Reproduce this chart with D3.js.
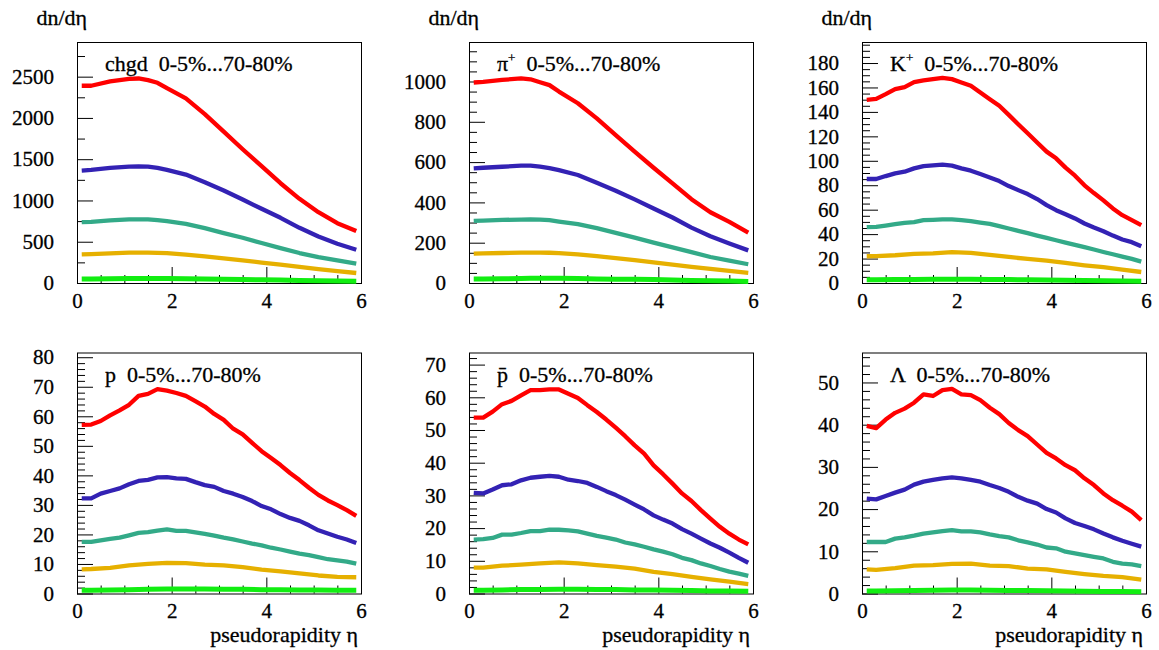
<!DOCTYPE html>
<html><head><meta charset="utf-8">
<script src="https://cdn.jsdelivr.net/npm/d3@7"></script>
</head><body style="margin:0;background:#fff">
<svg id="c" width="1159" height="650"></svg>
<script>
// ---------- data ----------
const etaMid = [0.1,0.3,0.7,1.1,1.3,1.5,1.7,1.9,2.3,2.7,3.1,3.5,3.9,4.3,4.7,5.1,5.5,5.9];
const etaFine = [0.1,0.3,0.5,0.7,0.9,1.1,1.3,1.5,1.7,1.9,2.1,2.3,2.5,2.7,2.9,3.1,3.3,3.5,3.7,3.9,4.1,4.3,4.5,4.7,4.9,5.1,5.3,5.5,5.7,5.9];
const etaCoarse = [0.1,0.3,0.7,1.1,1.5,1.9,2.3,2.7,3.1,3.5,3.9,4.3,4.7,5.1,5.5,5.9];

const chgdRed    = [2390,2390,2442,2474,2478,2458,2426,2360,2237,2047,1834,1620,1415,1209,1020,858,725,629];
const chgdBlue   = [1362,1370,1394,1410,1412,1410,1394,1370,1314,1221,1120,1012,899,790,669,564,476,403];
const chgdTeal   = [737,740,758,770,772,770,762,750,717,665,605,548,484,423,363,314,274,234];
const chgdOrange = [347,350,360,367,368,367,365,363,345,322,298,274,248,222,195,169,145,121];
const chgdGreen  = [48,49,52,54,55,56,56,56,52,48,45,42,40,35,30,27,23,20];

const piRed    = [995,998,1008,1015,1011,996,982,950,892,817,734,652,572,494,416,351,303,250];
const piBlue   = [569,572,577,582,582,577,570,560,536,497,458,415,370,325,275,232,196,162];
const piTeal   = [308,310,313,315,316,315,312,305,292,272,249,225,200,177,153,129,111,93];
const piOrange = [146,147,149,151,151,151,150,148,142,133,123,113,102,91,80,70,60,50];
const piGreen  = [20,20,21,22,23,23,23,23,22,20,19,18,17,15,13,11,10,8];

const kRed    = [149.9,150.7,154.5,158.6,160.3,164.4,165.8,166.8,167.9,166.8,164.1,161.4,155.9,150.4,145.0,137.6,129.9,122.5,114.9,107.5,102.0,94.4,87.8,79.9,73.6,67.6,61.0,55.5,51.4,47.3];
const kBlue   = [85.1,85.1,87.5,89.7,91.1,93.8,95.7,96.3,96.8,96.0,93.8,91.9,89.2,86.4,83.4,79.3,76.0,72.8,68.7,63.7,59.6,56.3,52.8,48.7,45.4,42.4,38.8,35.6,33.4,30.1];
const kTeal   = [45.7,46.0,47.0,48.1,49.2,49.8,51.4,51.7,52.0,52.0,51.4,50.6,49.5,48.4,46.5,44.6,42.7,40.8,38.8,36.9,35.0,33.1,31.2,29.3,27.4,25.4,23.5,21.6,19.7,17.5];
const kOrange = [21.9,22.0,22.7,23.8,24.3,25.2,24.6,23.0,21.3,19.7,18.3,16.4,14.5,12.9,11.0,9.0];
const kGreen  = [2.7,2.7,2.8,2.9,3.0,3.0,3.0,2.9,2.8,2.6,2.5,2.3,2.1,1.9,1.7,1.5];

const pRed    = [57.1,57.2,58.4,60.3,62.0,63.9,66.9,67.6,69.2,68.7,67.9,66.9,65.1,63.3,60.8,58.8,55.8,53.9,51.0,48.2,45.9,43.5,40.8,38.4,35.8,33.4,31.5,29.9,28.2,26.3];
const pBlue   = [32.2,32.2,33.8,34.7,35.6,37.0,38.1,38.5,39.3,39.4,39.0,38.8,37.7,36.7,36.1,34.7,33.8,32.7,31.3,29.6,28.5,26.9,25.6,24.6,23.1,21.4,20.3,19.2,18.3,17.1];
const pTeal   = [17.5,17.5,18.0,18.5,18.9,19.7,20.5,20.8,21.3,21.7,21.2,21.2,20.7,20.2,19.6,18.9,18.3,17.6,16.9,16.3,15.5,14.9,14.2,13.5,13.0,12.3,11.6,11.2,10.8,10.1];
const pOrange = [8.2,8.3,8.7,9.5,10.0,10.4,10.3,9.8,9.5,8.9,8.1,7.5,6.8,6.1,5.6,5.5];
const pGreen  = [1.1,1.1,1.2,1.3,1.4,1.5,1.5,1.5,1.4,1.4,1.3,1.3,1.2,1.2,1.1,1.1];

const pbarRed    = [53.8,53.8,55.6,57.9,58.9,60.6,62.2,62.2,62.4,62.4,61.1,59.8,57.6,55.5,53.2,50.7,48.1,45.3,42.8,39.2,36.5,33.6,30.6,28.3,25.5,22.9,20.4,18.3,16.5,15.0];
const pbarBlue   = [30.8,30.6,31.8,33.1,33.4,34.6,35.4,35.7,36.0,35.7,34.8,34.4,33.8,32.6,31.3,30.1,28.7,27.2,25.7,23.9,22.6,21.4,19.7,18.3,16.8,15.3,14.0,12.5,10.9,9.4];
const pbarTeal   = [16.5,16.6,17.0,18.0,18.0,18.5,19.1,19.1,19.5,19.5,19.3,19.0,18.3,17.6,17.1,16.5,15.6,15.0,14.3,13.5,12.8,12.0,10.9,10.2,9.2,8.4,7.5,6.7,6.1,5.4];
const pbarOrange = [7.9,7.9,8.5,8.8,9.2,9.5,9.2,8.7,8.2,7.6,6.6,5.9,5.1,4.3,3.6,2.9];
const pbarGreen  = [1.0,1.0,1.1,1.2,1.2,1.3,1.3,1.2,1.2,1.1,1.1,1.0,0.9,0.8,0.8,0.7];

const lamRed    = [39.7,39.2,41.2,42.8,43.8,45.2,47.2,46.8,48.2,48.5,47.2,47.0,45.8,44.0,42.5,40.4,38.7,37.3,35.3,33.3,32.0,30.4,29.2,27.3,25.7,23.7,22.1,20.8,19.4,17.4];
const lamBlue   = [22.5,22.3,23.1,23.9,24.6,25.8,26.5,26.9,27.3,27.5,27.3,26.9,26.5,25.7,25.0,24.1,22.9,22.0,21.3,20.0,19.2,17.8,16.7,16.0,15.2,14.2,13.3,12.5,11.8,11.1];
const lamTeal   = [12.2,12.2,12.2,13.0,13.3,13.7,14.2,14.5,14.8,15.0,14.7,14.7,14.5,14.0,13.6,13.3,12.6,12.1,11.6,10.9,10.7,9.9,9.5,9.1,8.7,8.3,7.5,7.1,6.9,6.5];
const lamOrange = [5.7,5.6,6.0,6.6,6.7,7.0,7.1,6.6,6.5,5.9,5.7,5.1,4.6,4.2,3.9,3.3];
const lamGreen  = [0.6,0.6,0.65,0.7,0.75,0.8,0.8,0.75,0.7,0.7,0.65,0.6,0.55,0.5,0.45,0.4];

const seriesColors = ["#ff0000","#3322b4","#33aa88","#e6b000","#11ee11"];
const xTicks = [0,2,4,6];
const yTicksChgd = [0,500,1000,1500,2000,2500];
const yTicksPi = [0,200,400,600,800,1000];
const yTicksK = [0,20,40,60,80,100,120,140,160,180];
const yTicksP = [0,10,20,30,40,50,60,70,80];
const yTicksPbar = [0,10,20,30,40,50,60,70];
const yTicksLam = [0,10,20,30,40,50];
const rangeText = "0-5%...70-80%";

// ---------- layout ----------
const FONT = '"Liberation Serif"';
const svg = d3.select("#c");
const colLeft = [77, 469, 862], rowTop = [42, 352.5];
const W = 284, H = 241;

const panels = [
  {particle:"chgd", sup:"", etas:[etaMid,etaMid,etaMid,etaMid,etaMid], vals:[chgdRed,chgdBlue,chgdTeal,chgdOrange,chgdGreen], yMax:2920, ticks:yTicksChgd, minor:250},
  {particle:"π", sup:"+", etas:[etaMid,etaMid,etaMid,etaMid,etaMid], vals:[piRed,piBlue,piTeal,piOrange,piGreen], yMax:1196, ticks:yTicksPi, minor:50},
  {particle:"K", sup:"+", etas:[etaFine,etaFine,etaFine,etaCoarse,etaCoarse], vals:[kRed,kBlue,kTeal,kOrange,kGreen], yMax:197.2, ticks:yTicksK, minor:5},
  {particle:"p", sup:"", etas:[etaFine,etaFine,etaFine,etaCoarse,etaCoarse], vals:[pRed,pBlue,pTeal,pOrange,pGreen], yMax:81.6, ticks:yTicksP, minor:2},
  {particle:"p\u0304", sup:"", etas:[etaFine,etaFine,etaFine,etaCoarse,etaCoarse], vals:[pbarRed,pbarBlue,pbarTeal,pbarOrange,pbarGreen], yMax:73.7, ticks:yTicksPbar, minor:2},
  {particle:"Λ", sup:"", etas:[etaFine,etaFine,etaFine,etaCoarse,etaCoarse], vals:[lamRed,lamBlue,lamTeal,lamOrange,lamGreen], yMax:57.1, ticks:yTicksLam, minor:2}
];

panels.forEach((P, i) => {
  const col = i % 3, row = Math.floor(i / 3);
  const left = colLeft[col], top = rowTop[row];
  const g = svg.append("g").attr("transform", `translate(${left},${top})`);
  const x = d3.scaleLinear().domain([0, 6]).range([0, W]);
  const y = d3.scaleLinear().domain([0, P.yMax]).range([H, 0]);

  const minorY = d3.range(0, P.yMax, P.minor).filter(v => !P.ticks.includes(v));
  const minorX = d3.range(0, 6.001, 0.5).filter(v => !xTicks.includes(v));

  const style = sel => {
    sel.select(".domain").remove();
    sel.selectAll("line").attr("stroke", "#000").attr("stroke-width", 1);
    sel.attr("font-size", 21);
  };

  g.append("g").call(d3.axisLeft(y).tickValues(minorY).tickSize(-8).tickFormat("")).call(style);
  g.append("g").call(d3.axisLeft(y).tickValues(P.ticks).tickSize(-16).tickPadding(23).tickFormat(d3.format("d"))).call(style);
  g.append("g").attr("transform", `translate(0,${H})`)
    .call(d3.axisBottom(x).tickValues(minorX).tickSize(-8).tickFormat("")).call(style);
  g.append("g").attr("transform", `translate(0,${H})`)
    .call(d3.axisBottom(x).tickValues(xTicks).tickSize(-16).tickPadding(10).tickFormat(d3.format("d"))).call(style);

  g.append("rect").attr("x", 0.5).attr("y", 0.5).attr("width", W).attr("height", H)
    .attr("fill", "none").attr("stroke", "#000").attr("stroke-width", 1);

  const line = d3.line().x(d => x(d[0])).y(d => y(d[1]));
  P.vals.forEach((vals, s) => {
    const pts = P.etas[s].map((e, k) => [e, vals[k]]);
    g.append("path").datum(pts).attr("d", line)
      .attr("fill", "none").attr("stroke", seriesColors[s])
      .attr("stroke-width", s === 4 ? 5 : 4.3).attr("stroke-linejoin", "round");
  });

  const t = g.append("text").attr("x", 28).attr("y", 29)
    .attr("font-size", 22).attr("xml:space", "preserve").style("white-space", "pre");
  t.append("tspan").text(P.particle);
  if (P.sup) t.append("tspan").attr("font-size", 13).attr("dy", -9).text(P.sup);
  t.append("tspan").attr("dy", P.sup ? 9 : 0).text("  " + rangeText);

  if (row === 0) {
    svg.append("text").attr("x", left + 10).attr("y", 25).attr("text-anchor", "end")
      .attr("font-size", 22).text("dn/dη");
  } else {
    svg.append("text").attr("x", left + W - 3).attr("y", 642).attr("text-anchor", "end")
      .attr("font-size", 22).text("pseudorapidity η");
  }
});

svg.selectAll("text").style("font-family", FONT).style("fill", "#000")
  .style("stroke", "#000").style("stroke-width", 0.3);
</script>
</body></html>
